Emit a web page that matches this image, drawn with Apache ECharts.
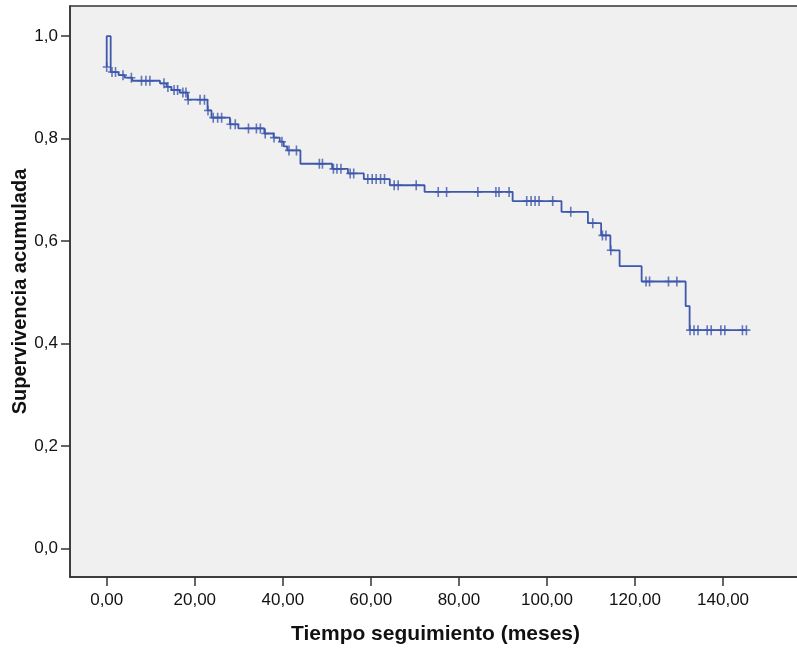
<!DOCTYPE html>
<html>
<head>
<meta charset="utf-8">
<script src="https://cdn.jsdelivr.net/npm/echarts@6/dist/echarts.min.js"></script>
<style>
    html, body { margin: 0; padding: 0; background: #fff; }
    #chart { width: 797px; height: 651px; }
</style>
</head>
<body>
<div id="chart"></div>
<script>
'use strict'

// Kaplan-Meier: time of each step and survival after it
const stepTimes = [0, 0, 0.9, 2.7, 4.1, 5.8, 12.1, 13.6, 14.7, 16.6, 18.4, 22.9, 23.8, 28.0, 29.9, 35.8, 37.9, 39.3, 40.2, 41.0,
    44.0, 51.2, 54.8, 58.4, 64.3, 72.2, 92.2, 103.3, 109.3, 112.3, 114.4, 116.5, 121.5, 131.5, 132.4]
const stepSurv = [0.940, 1.0, 0.930, 0.924, 0.919, 0.913, 0.908, 0.901, 0.895, 0.890, 0.876, 0.855, 0.841, 0.828, 0.820, 0.810, 0.802, 0.794, 0.785, 0.777,
    0.751, 0.741, 0.732, 0.721, 0.709, 0.696, 0.678, 0.657, 0.635, 0.611, 0.582, 0.551, 0.521, 0.473, 0.426]

// censored cases (months)
const censorTimes = [0, 1.2, 2.0, 3.7, 5.6, 7.9, 8.9, 9.8, 13.0, 13.9, 15.3, 16.1, 17.3, 18.0, 18.5, 21.2, 22.2, 23.0, 24.2, 25.2, 26.1,
    28.1, 29.2, 32.2, 34.0, 34.9, 36.0, 38.0, 39.8, 41.4, 43.1, 48.3, 49.0, 51.5, 52.3, 53.2, 55.3, 56.1, 59.3, 60.3, 61.2, 62.2, 63.1,
    65.3, 66.2, 70.3, 75.3, 77.2, 84.3, 88.4, 89.1, 91.4, 95.4, 96.4, 97.3, 98.2, 101.3, 105.4, 110.4, 112.6, 113.4, 114.5,
    122.5, 123.3, 127.6, 129.5, 132.5, 133.4, 134.3, 136.4, 137.3, 139.5, 140.4, 144.4, 145.3]

const xTicks = [0, 20, 40, 60, 80, 100, 120, 140]
const yTicks = [0, 0.2, 0.4, 0.6, 0.8, 1.0]

const lineColor = '#3e58ac'
const font = '"Liberation Sans", Arial, sans-serif'

function survAt(t) {
    let s = stepSurv[0]
    stepTimes.forEach((v, k) => {
        if (v < t) s = stepSurv[k]
    })
    return s
}

const lineData = stepTimes.map((v, k) => [v, stepSurv[k]])
lineData.push([Math.max(...censorTimes), stepSurv[stepSurv.length - 1]])
const censorData = censorTimes.map(v => [v, survAt(v)])

const plusSymbol = 'path://M3.2,0H4.8V10H3.2Z M0,4.2H8V5.8H0Z'

let option = {
    animation: false,
    grid: {
        left: 70,
        right: -4,
        top: 6,
        bottom: 74,
        outerBoundsMode: 'none',
        show: true,
        backgroundColor: '#f0f0f0',
        borderColor: '#333',
        borderWidth: 1.5
    },
    xAxis: {
        type: 'value',
        min: -8.34,
        max: 157.7,
        name: 'Tiempo seguimiento (meses)',
        nameLocation: 'middle',
        nameGap: 47,
        nameMoveOverlap: false,
        nameTextStyle: {
            color: '#111',
            fontFamily: font,
            fontWeight: 'bold',
            fontSize: 21
        },
        splitLine: { show: false },
        axisLine: { show: true, onZero: false, lineStyle: { color: '#333', width: 1.5 } },
        axisTick: {
            show: true,
            length: 9,
            customValues: xTicks,
            lineStyle: { color: '#333', width: 1.5 }
        },
        axisLabel: {
            customValues: xTicks,
            margin: 15,
            color: '#111',
            fontFamily: font,
            fontSize: 17,
            formatter: v => v.toFixed(2).replace('.', ',')
        }
    },
    yAxis: {
        type: 'value',
        min: -0.056,
        max: 1.059,
        name: 'Supervivencia acumulada',
        nameLocation: 'middle',
        nameGap: 40,
        nameMoveOverlap: false,
        nameTextStyle: {
            color: '#111',
            fontFamily: font,
            fontWeight: 'bold',
            fontSize: 20
        },
        splitLine: { show: false },
        axisLine: { show: true, onZero: false, lineStyle: { color: '#333', width: 1.5 } },
        axisTick: {
            show: true,
            length: 9,
            customValues: yTicks,
            lineStyle: { color: '#333', width: 1.5 }
        },
        axisLabel: {
            customValues: yTicks,
            margin: 12,
            color: '#111',
            fontFamily: font,
            fontSize: 17,
            formatter: v => v.toFixed(1).replace('.', ',')
        }
    },
    series: [{
        type: 'line',
        step: 'end',
        data: lineData,
        showSymbol: false,
        lineStyle: { color: lineColor, width: 1.8 }
    }, {
        type: 'scatter',
        data: censorData,
        symbol: plusSymbol,
        symbolSize: [8, 10],
        itemStyle: { color: lineColor },
        z: 3
    }]
}

let myChart = echarts.init(document.getElementById('chart'))
myChart.setOption(option)
</script>
</body>
</html>
